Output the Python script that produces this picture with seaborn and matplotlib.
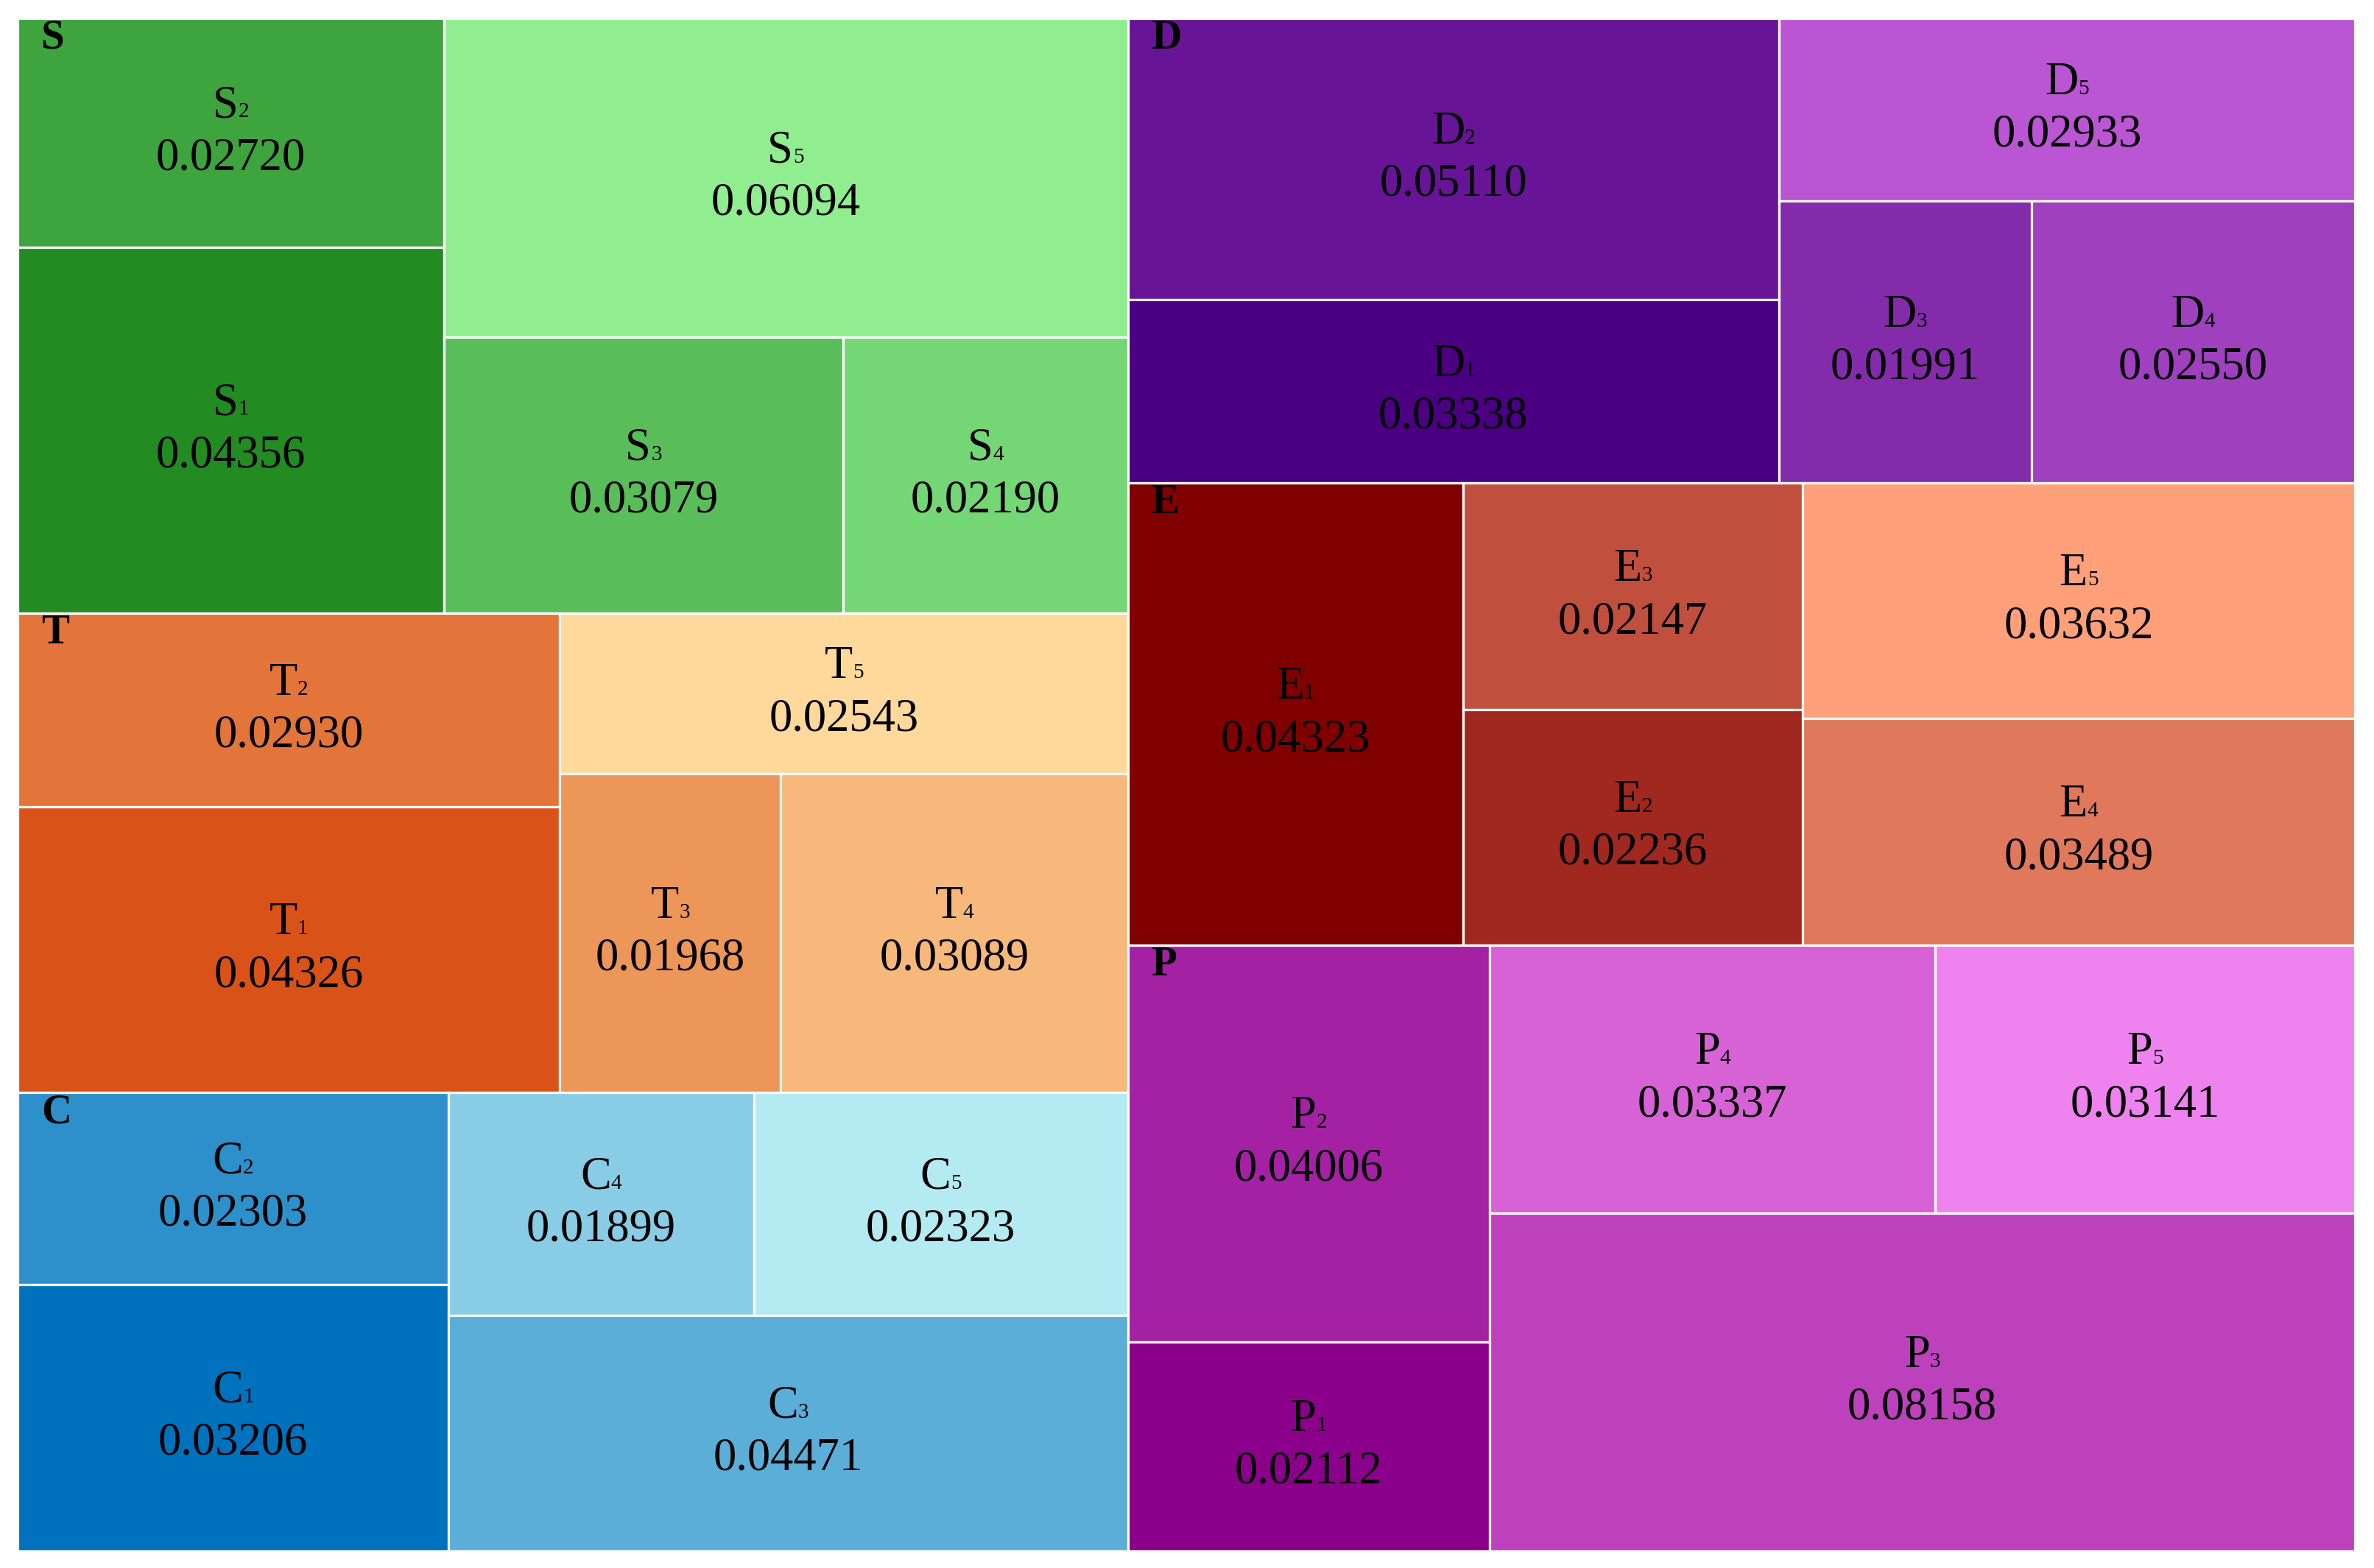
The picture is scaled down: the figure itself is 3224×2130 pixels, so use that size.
import numpy as np
import matplotlib
matplotlib.use("Agg")
import matplotlib.pyplot as plt
from matplotlib.patches import Rectangle
import seaborn as sns

# values per indicator group (index 1..5)
groups = ['S', 'T', 'C', 'D', 'E', 'P']
S_vals = [0.04356, 0.02720, 0.03079, 0.02190, 0.06094]
T_vals = [0.04326, 0.02930, 0.01968, 0.03089, 0.02543]
C_vals = [0.03206, 0.02303, 0.04471, 0.01899, 0.02323]
D_vals = [0.03338, 0.05110, 0.01991, 0.02550, 0.02933]
E_vals = [0.04323, 0.02236, 0.02147, 0.03489, 0.03632]
P_vals = [0.02112, 0.04006, 0.08158, 0.03337, 0.03141]
values = {'S': S_vals, 'T': T_vals, 'C': C_vals, 'D': D_vals, 'E': E_vals, 'P': P_vals}

# dark -> light colour for each group
group_colors = {
    'S': ['#228B22', '#90EE90'],
    'T': ['#D95319', '#FFD99B'],
    'C': ['#0072BD', '#B4EAF2'],
    'D': ['#4B0082', '#BA55D3'],
    'E': ['#800000', '#FFA07A'],
    'P': ['#8B008B', '#EE82EE'],
}

# split structure: 'h' = side by side, 'v' = stacked top to bottom
layouts = {
    'S': ('h', [('v', [2, 1]), ('v', [5, ('h', [3, 4])])]),
    'T': ('h', [('v', [2, 1]), ('v', [5, ('h', [3, 4])])]),
    'C': ('h', [('v', [2, 1]), ('v', [('h', [4, 5]), 3])]),
    'D': ('h', [('v', [2, 1]), ('v', [5, ('h', [3, 4])])]),
    'E': ('h', [1, ('v', [3, 2]), ('v', [5, 4])]),
    'P': ('h', [('v', [2, 1]), ('v', [('h', [4, 5]), 3])]),
}
top_layout = ('h', [('v', ['S', 'T', 'C']), ('v', ['D', 'E', 'P'])])


def weight(node, g=None):
    if isinstance(node, tuple):
        return sum(weight(n, g) for n in node[1])
    if isinstance(node, str):
        return sum(values[node])
    return values[g][node - 1]


def split(node, x, y, w, h, g=None, out=None):
    if out is None:
        out = []
    if not isinstance(node, tuple):
        out.append((node, x, y, w, h))
        return out
    kind, kids = node
    total = weight(node, g)
    pos = 0.0
    for k in kids:
        f = weight(k, g) / total
        if kind == 'h':
            split(k, x + pos * w, y, f * w, h, g, out)
        else:
            split(k, x, y + pos * h, w, f * h, g, out)
        pos += f
    return out


sns.set_theme(style='white')
plt.rcParams['font.family'] = ['Liberation Serif', 'DejaVu Serif']

fig = plt.figure(figsize=(32.24, 21.30), dpi=100)
ax = fig.add_axes([24 / 3224, 23 / 2130, 3174 / 3224, 2082 / 2130])
ax.set_xlim(0, 1)
ax.set_ylim(1, 0)
ax.axis('off')
renderer = fig.canvas.get_renderer()

for g, gx, gy, gw, gh in split(top_layout, 0, 0, 1, 1):
    pal = sns.blend_palette(group_colors[g], 5)
    for idx, x, y, w, h in split(layouts[g], gx, gy, gw, gh, g):
        ax.add_patch(Rectangle((x, y), w, h, facecolor=pal[idx - 1],
                               edgecolor='white', linewidth=2.3))
        cx, cy = x + w / 2, y + h / 2
        # letter with a small index digit sitting on the baseline
        lt = ax.annotate(g, (cx, cy), xytext=(0, 21), textcoords='offset pixels',
                         ha='center', va='baseline', fontsize=45, color='black')
        dt = ax.annotate(str(idx), (cx, cy), xytext=(0, 21), textcoords='offset pixels',
                         ha='left', va='baseline', fontsize=21, color='black')
        lw_ = lt.get_window_extent(renderer).width
        dw_ = dt.get_window_extent(renderer).width
        lt.xyann = (-dw_ / 2, 21)
        dt.xyann = (lw_ / 2 - dw_ / 2, 21)
        ax.annotate('%.5f' % values[g][idx - 1], (cx, cy), xytext=(0, -50),
                    textcoords='offset pixels', ha='center', va='baseline',
                    fontsize=45, color='black')
    ax.annotate(g, (gx, gy), xytext=(32, -1), textcoords='offset pixels',
                ha='left', va='top', fontsize=41, fontweight='bold', color='black')

fig.savefig('out.png', dpi=100, facecolor='white')
